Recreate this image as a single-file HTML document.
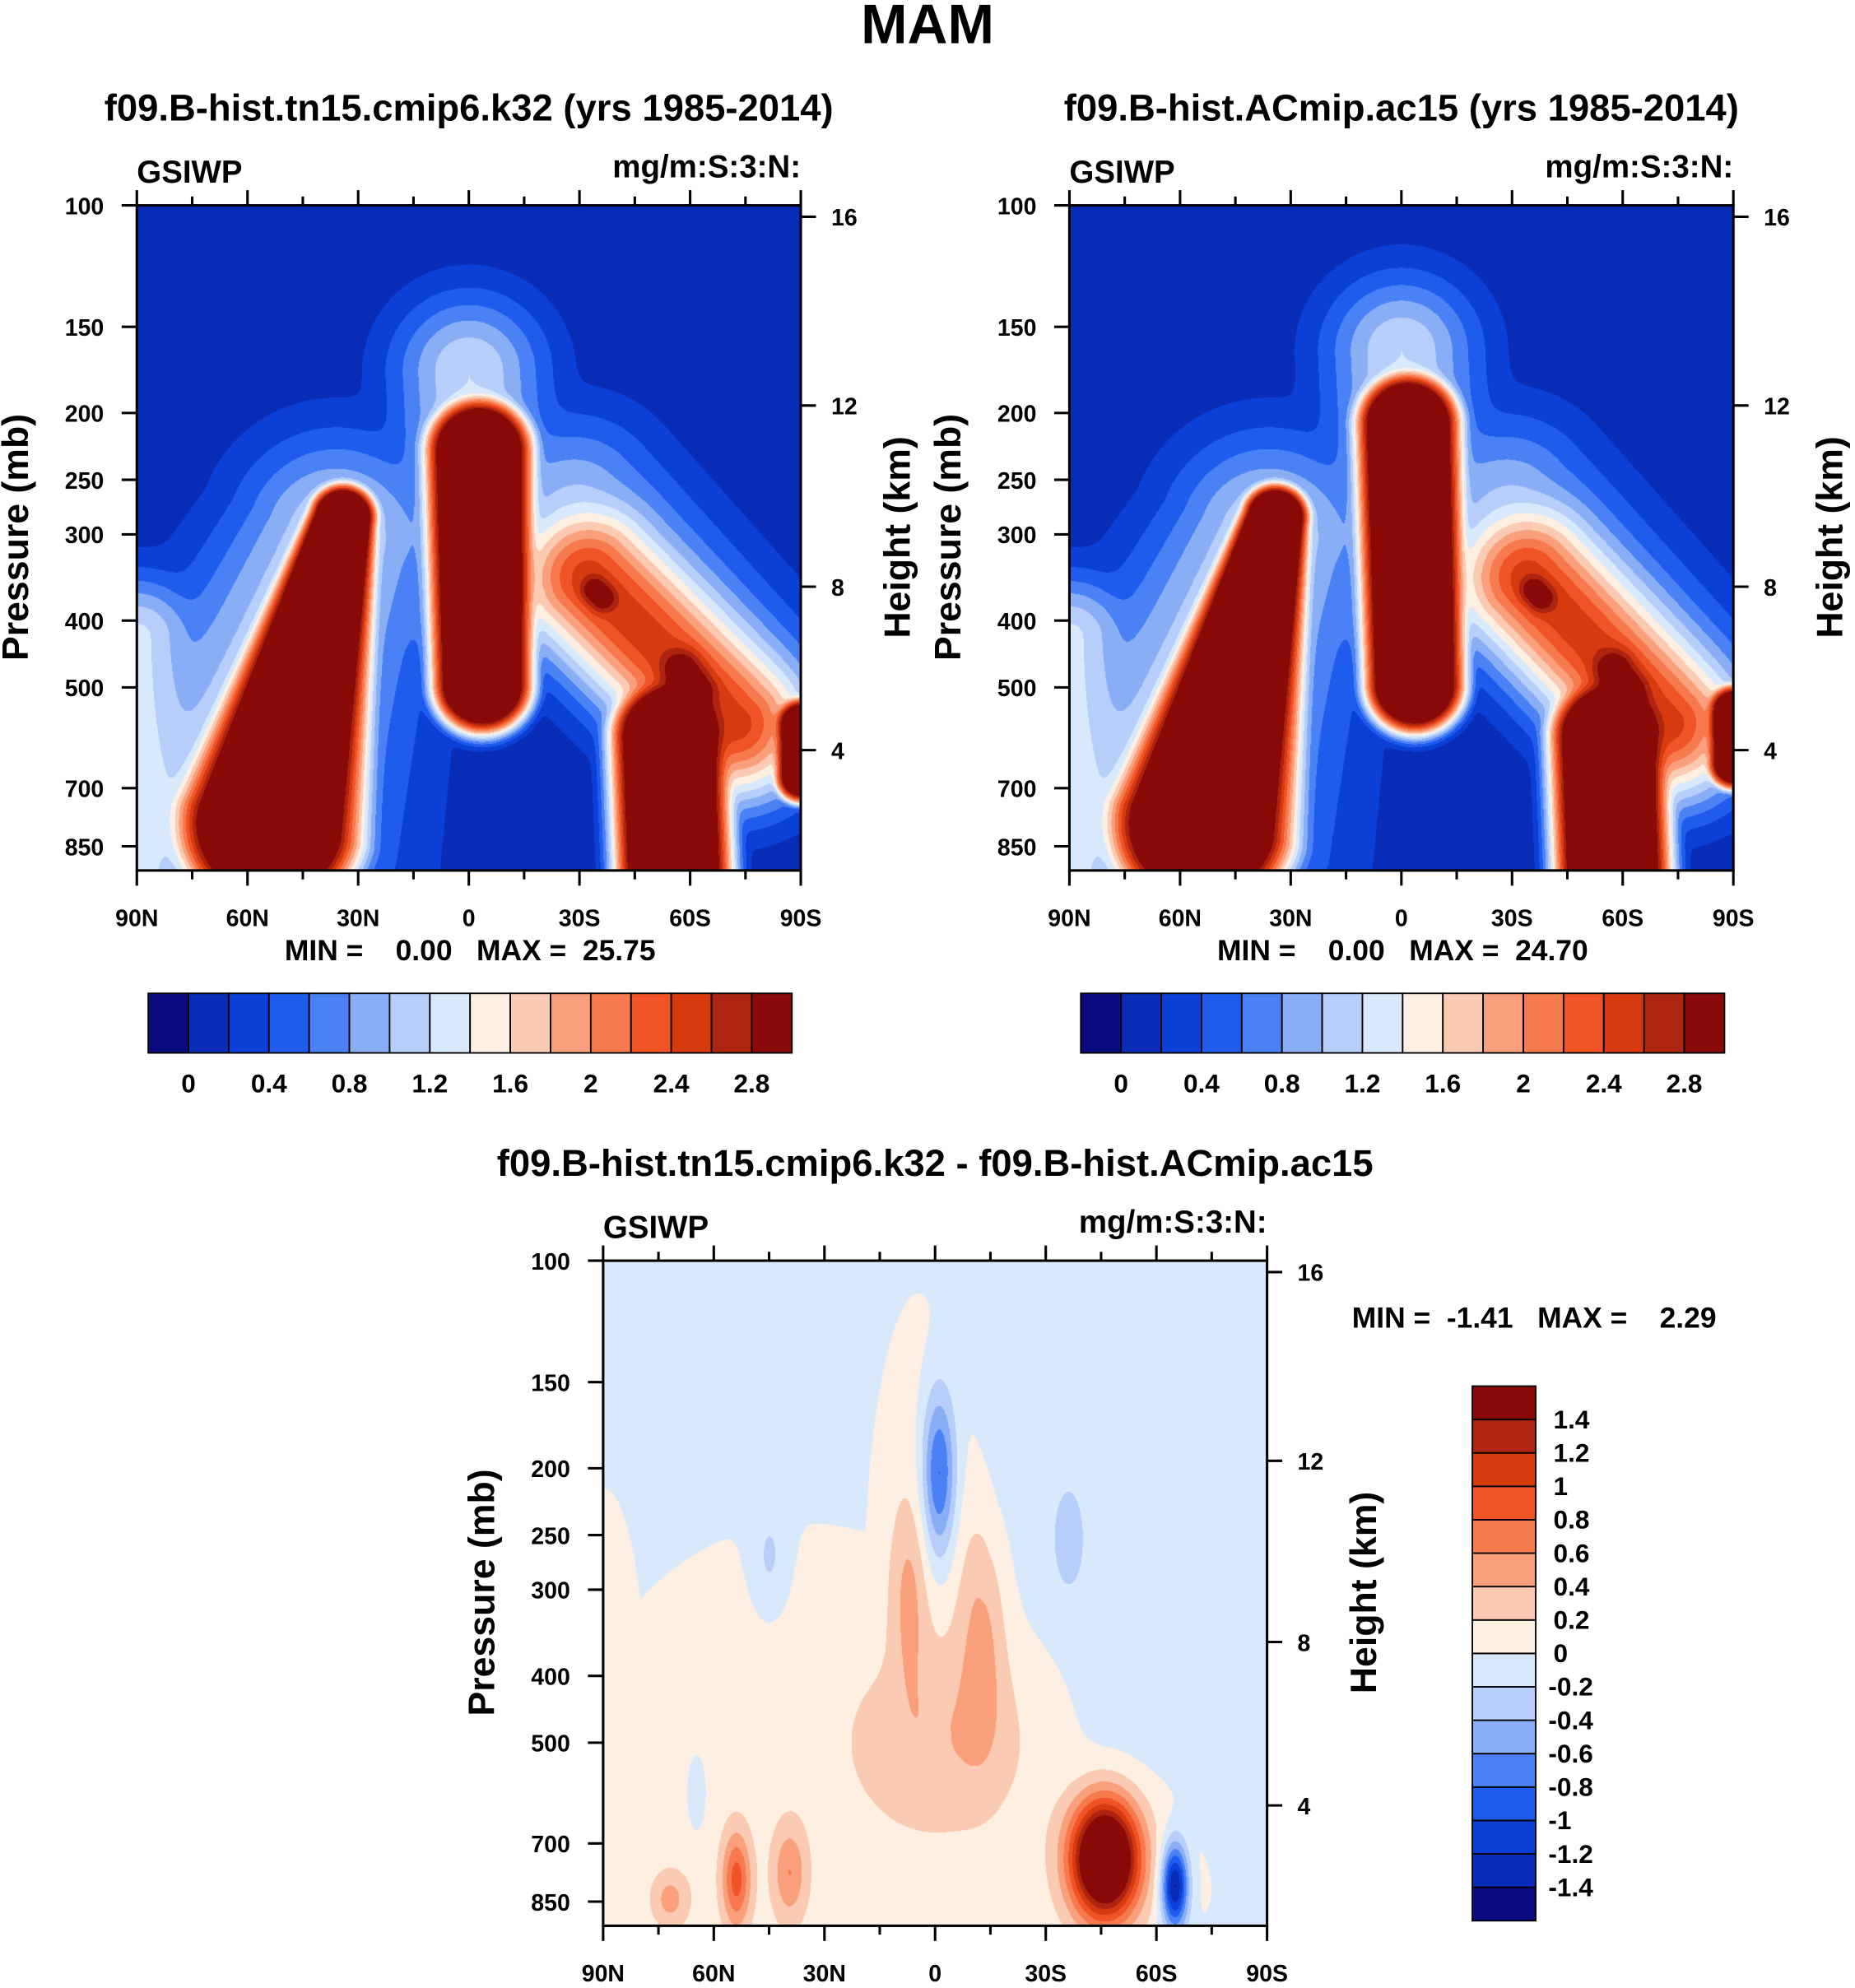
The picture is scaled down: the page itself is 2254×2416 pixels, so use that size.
<!DOCTYPE html>
<html><head><meta charset="utf-8"><style>
html,body{margin:0;padding:0;background:#fff;}
#wrap{position:relative;width:2254px;height:2416px;overflow:hidden;}
canvas{position:absolute;}
svg{position:absolute;left:0;top:0;}
text{font-family:"Liberation Sans",sans-serif;font-weight:bold;fill:#000;white-space:pre;}
</style></head><body>
<div id="wrap">
<canvas id="c1"></canvas>
<canvas id="c2"></canvas>
<canvas id="c3"></canvas>
<svg id="svg" width="2254" height="2416" viewBox="0 0 1464 1569"></svg>
</div>
<script>
// ---- data ----
const colors=["#0b0b80","#0a2db8","#0a40d8","#1f5cee","#4a82f5","#8aaef6","#b6cef9","#d9e9fc","#fdefe2","#fbcab2","#fa9f7b","#f77a4e","#f05426","#d83a10","#ad2410","#8a0a0a"];
const absLabels=["0","0.4","0.8","1.2","1.6","2","2.4","2.8"];
const diffLabels=["1.4","1.2","1","0.8","0.6","0.4","0.2","0","-0.2","-0.4","-0.6","-0.8","-1","-1.2","-1.4"];
const latLabels=["90N","60N","30N","0","30S","60S","90S"];
const pressTicks=[100,150,200,250,300,400,500,700,850];
const heightTicks=[16,12,8,4];
// ridge features (smooth-max combined): [amp, u1, v1, u2, v2, width1, width2, exponent]
// u: 0=90N..1=90S ; v: 0=100mb..1=925mb
const ridges1=[[4,0.31,0.47,0.2,0.93,0.045,0.12,4],[1.25,0.3,0.5,0.15,0.9,0.11,0.17,2],[1.25,0.0,0.65,0.0,1.0,0.07,0.07,2],
 [4,0.515,0.37,0.52,0.72,0.07,0.065,4],[1.2,0.5,0.25,0.52,0.6,0.085,0.085,2],
 [2.5,0.68,0.56,0.9,0.78,0.085,0.085,2],[2.8,0.69,0.58,0.7,0.59,0.025,0.025,2],[2.9,0.82,0.7,0.84,0.73,0.035,0.035,2],
 [1.0,0.66,0.45,0.9,0.72,0.1,0.1,2],
 [4,0.8,0.8,0.81,1.05,0.075,0.075,4],[3.5,1.0,0.78,1.0,0.86,0.035,0.035,4]];
const ridges2=[[4,0.31,0.47,0.2,0.93,0.045,0.12,4],[1.25,0.3,0.5,0.15,0.9,0.11,0.17,2],[1.25,0.0,0.65,0.0,1.0,0.07,0.07,2],
 [4,0.51,0.33,0.52,0.72,0.068,0.065,4],[1.2,0.5,0.22,0.52,0.6,0.085,0.085,2],
 [2.5,0.69,0.56,0.9,0.78,0.085,0.085,2],[2.8,0.7,0.58,0.71,0.59,0.025,0.025,2],[2.9,0.82,0.7,0.84,0.73,0.035,0.035,2],
 [1.0,0.66,0.45,0.9,0.72,0.1,0.1,2],
 [4,0.81,0.8,0.82,1.05,0.075,0.075,4],[3.5,1.0,0.76,1.0,0.84,0.035,0.035,4]];
// difference panel: regions (max) + blobs (summed): [amp, u, v, su, sv, exponent]
const base3=-0.1;
const regions3=[[0.2,0.3,0.85,0.34,0.42,4],[0.2,0.48,0.5,0.08,0.42,4],[0.2,0.75,0.92,0.16,0.14,4],[0.2,0.0,0.7,0.06,0.33,4]];
const blobs3=[[2.4,0.755,0.9,0.035,0.06,2],[-1.5,0.86,0.94,0.014,0.045,2],[-0.9,0.505,0.32,0.018,0.09,2],
 [0.35,0.46,0.5,0.02,0.1,2],[0.4,0.57,0.55,0.025,0.12,2],[0.3,0.52,0.72,0.1,0.1,2],[0.8,0.2,0.93,0.015,0.05,2],[0.5,0.28,0.92,0.018,0.05,2],[0.4,0.1,0.96,0.02,0.03,2],
 [-0.25,0.25,0.45,0.02,0.06,2],[-0.3,0.7,0.42,0.015,0.05,2],[-0.25,0.14,0.8,0.01,0.04,2],[-0.1,0.93,0.82,0.02,0.06,2]];
// ---- layout ----
const S=2254/1464;
const NS="http://www.w3.org/2000/svg";
const svg=document.getElementById('svg');
function el(tag,attrs,txt,name,parent){const e=document.createElementNS(NS,tag);for(const k in attrs)e.setAttribute(k,attrs[k]);if(txt!==undefined)e.textContent=txt;


(parent||svg).appendChild(e);return e;}
const PW=524,PH=525;
const hOff=[9,158,301,430];
function prof(b,u,v){const du=(u-b[1])/b[3],dv=(v-b[2])/b[4];const r2=du*du+dv*dv;return b[0]*Math.exp(-0.5*Math.pow(r2,b[5]/2));}
function ridge(r,u,v){const ax=r[3]-r[1],ay=r[4]-r[2];const L2=ax*ax+ay*ay;let t=L2>0?((u-r[1])*ax+(v-r[2])*ay)/L2:0;t=Math.max(0,Math.min(1,t));
 const dx=u-(r[1]+t*ax),dy=v-(r[2]+t*ay);const w=r[5]+(r[6]-r[5])*t;const d=Math.sqrt(dx*dx+dy*dy)/w;return r[0]*Math.exp(-0.5*Math.pow(d,r[7]));}
function ridgeField(rs,u,v){let s=0;for(const r of rs){s+=Math.pow(ridge(r,u,v),4);}return Math.pow(s,0.25);}
function gaussField(bl,reg,base,u,v){let m=0;for(const b of reg){m=Math.max(m,prof(b,u,v));}let s=base+m;for(const b of bl)s+=prof(b,u,v);return s;}
function drawCanvas(id,x0,y0,fn,idxFn){
 const c=document.getElementById(id);const w=Math.round(PW*S),h=Math.round(PH*S);
 c.width=w;c.height=h;c.style.left=(x0*S)+'px';c.style.top=(y0*S)+'px';
 const ctx=c.getContext('2d');const img=ctx.createImageData(w,h);
 const rgb=colors.map(c=>[parseInt(c.substr(1,2),16),parseInt(c.substr(3,2),16),parseInt(c.substr(5,2),16)]);
 for(let j=0;j<h;j++)for(let i=0;i<w;i++){const val=fn(i/w,j/h);const k=idxFn(val);const p=(j*w+i)*4;img.data[p]=rgb[k][0];img.data[p+1]=rgb[k][1];img.data[p+2]=rgb[k][2];img.data[p+3]=255;}
 ctx.putImageData(img,0,0);
}
const absIdx=v=>v<0?0:Math.min(15,Math.floor(v/0.2)+1);
const diffIdx=v=>Math.max(0,Math.min(15,Math.floor((v+1.4)/0.2)+1));
function panel(x0,y0,title,pre){
 const g=el('g',{},undefined,pre+'-panel');
 el('text',{x:x0+262,y:y0-67,'text-anchor':'middle','font-size':29.5},title,pre+'-title',g);
 el('text',{x:x0,y:y0-18,'font-size':25},'GSIWP',pre+'-variable-label',g);
 el('text',{x:x0+PW,y:y0-22,'text-anchor':'end','font-size':25},'mg/m:S:3:N:',pre+'-units-label',g);
 el('rect',{x:x0,y:y0,width:PW,height:PH,fill:'none',stroke:'#000','stroke-width':2},undefined,pre+'-plot-frame',g);
 const yP=p=>y0+236.4*Math.log(p/100);
 pressTicks.forEach(p=>{const y=yP(p);el('line',{x1:x0-12,x2:x0,y1:y,y2:y,stroke:'#000','stroke-width':2},undefined,pre+'-pressure-tick',g);
  el('text',{x:x0-26,y:y+7,'text-anchor':'end','font-size':18.5},String(p),pre+'-pressure-tick-label',g);});
 heightTicks.forEach((z,i)=>{const y=y0+hOff[i];el('line',{x1:x0+PW,x2:x0+PW+12,y1:y,y2:y,stroke:'#000','stroke-width':2},undefined,pre+'-height-tick',g);
  el('text',{x:x0+PW+24,y:y+7,'font-size':18.5},String(z),pre+'-height-tick-label',g);});
 for(let k=0;k<=12;k++){const x=x0+k*PW/12;const L=k%2==0?12:7;
  el('line',{x1:x,x2:x,y1:y0+PH,y2:y0+PH+L,stroke:'#000','stroke-width':2},undefined,pre+'-lat-tick',g);
  el('line',{x1:x,x2:x,y1:y0,y2:y0-L,stroke:'#000','stroke-width':2},undefined,pre+'-lat-tick-top',g);}
 latLabels.forEach((t,k)=>el('text',{x:x0+k*PW/6,y:y0+PH+44,'text-anchor':'middle','font-size':18.5},t,pre+'-lat-label',g));
 el('text',{transform:`translate(${x0-86},${y0+262}) rotate(-90)`,'text-anchor':'middle','font-size':29},'Pressure (mb)',pre+'-y-axis-title',g);
 el('text',{transform:`translate(${x0+PW+86},${y0+262}) rotate(-90)`,'text-anchor':'middle','font-size':29},'Height (km)',pre+'-right-axis-title',g);
}
function hbar(x0,y0,pre){
 const w=508/16;
 colors.forEach((c,i)=>el('rect',{x:x0+i*w,y:y0,width:w,height:47,fill:c,stroke:'#000','stroke-width':1.2},undefined,pre+'-colorbar-box'));
 absLabels.forEach((t,i)=>el('text',{x:x0+(2*i+1)*w,y:y0+78,'text-anchor':'middle','font-size':20.5},t,pre+'-colorbar-label'));
}
el('text',{x:732,y:34,'text-anchor':'middle','font-size':44},'MAM','figure-title');
panel(108,162,'f09.B-hist.tn15.cmip6.k32 (yrs 1985-2014)','k32');
panel(844,162,'f09.B-hist.ACmip.ac15 (yrs 1985-2014)','ac15');
panel(476,995,'f09.B-hist.tn15.cmip6.k32 - f09.B-hist.ACmip.ac15','diff');
el('text',{x:371,y:758,'text-anchor':'middle','font-size':23,'xml:space':'preserve'},'MIN =    0.00   MAX =  25.75','k32-min-max');
el('text',{x:1107,y:758,'text-anchor':'middle','font-size':23,'xml:space':'preserve'},'MIN =    0.00   MAX =  24.70','ac15-min-max');
el('text',{x:1067,y:1048,'font-size':23,'xml:space':'preserve'},'MIN =  -1.41   MAX =    2.29','diff-min-max');
hbar(117,784,'k32');hbar(853,784,'ac15');
const vh=422/16;
colors.forEach((c,i)=>el('rect',{x:1162,y:1094+(15-i)*vh,width:50,height:vh,fill:c,stroke:'#000','stroke-width':1.2},undefined,'diff-colorbar-box'));
diffLabels.forEach((t,i)=>el('text',{x:t[0]=='-'?1222:1226,y:1094+(i+1)*vh+7,'font-size':20.5},t,'diff-colorbar-label'));
drawCanvas('c1',108,162,(u,v)=>ridgeField(ridges1,u,v),absIdx);
drawCanvas('c2',844,162,(u,v)=>ridgeField(ridges2,u,v),absIdx);
drawCanvas('c3',476,995,(u,v)=>gaussField(blobs3,regions3,base3,u,v),diffIdx);
</script>
</body></html>
